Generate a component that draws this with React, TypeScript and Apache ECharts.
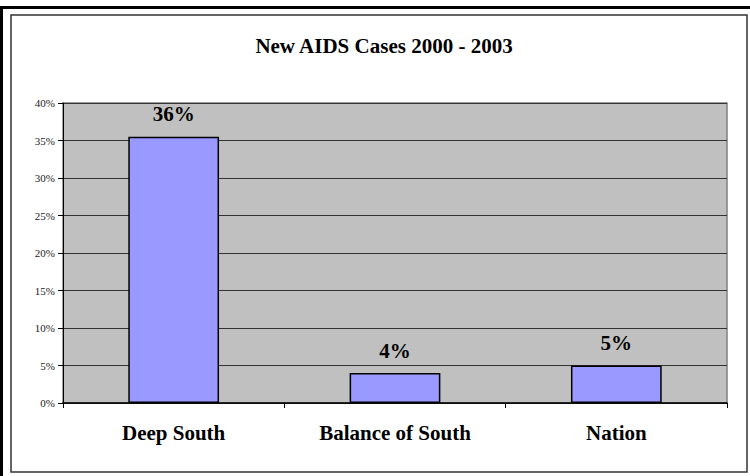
import React, { useEffect, useRef } from "react";
import * as echarts from "echarts";

const categories = ["Deep South", "Balance of South", "Nation"];
const values = [35.5, 4.0, 5.0];
const valueLabels = ["36%", "4%", "5%"];
const yTicks = [0, 5, 10, 15, 20, 25, 30, 35, 40];
const title = "New AIDS Cases 2000 - 2003";

export default function App() {
  const ref = useRef<HTMLDivElement>(null);
  useEffect(() => {
    document.body.style.margin = "0";
    const chart = echarts.init(ref.current!, null, { renderer: "svg" });
    const serif = "'Liberation Serif', 'Times New Roman', serif";
    chart.setOption({
      animation: false,
      backgroundColor: "#ffffff",
      title: {
        text: title,
        left: 379,
        top: 30,
        textAlign: "center",
        textStyle: { fontFamily: serif, fontWeight: "bold", fontSize: 21, color: "#000" },
      },
      grid: { left: 63, right: 23, top: 103, bottom: 73 },
      xAxis: {
        type: "category",
        data: categories,
        axisLine: { show: true, lineStyle: { color: "#000", width: 1.5 } },
        axisTick: { show: true, length: 5, lineStyle: { color: "#000" } },
        axisLabel: {
          fontFamily: serif,
          fontWeight: "bold",
          fontSize: 21,
          color: "#000",
          margin: 19,
        },
        splitLine: { show: false },
      },
      yAxis: {
        type: "value",
        min: 0,
        max: 40,
        interval: 5,
        axisLine: { show: true, lineStyle: { color: "#000", width: 1 } },
        axisTick: { show: true, length: 5, lineStyle: { color: "#000" } },
        axisLabel: {
          fontFamily: serif,
          fontSize: 11,
          color: "#222",
          margin: 8,
          formatter: (v: number) => (yTicks.includes(v) ? v + "%" : ""),
        },
        splitLine: { show: true, lineStyle: { color: "#333", width: 1 } },
        splitArea: { show: false },
      },
      graphic: [
        {
          type: "rect",
          shape: { x: 63, y: 103, width: 664, height: 300 },
          style: { fill: "#C0C0C0", stroke: "#808080", lineWidth: 1.5 },
          z: -10,
          silent: true,
        },
        {
          type: "line",
          shape: { x1: 0, y1: 7.5, x2: 750, y2: 7.5 },
          style: { stroke: "#000", lineWidth: 3 },
          silent: true,
        },
        {
          type: "line",
          shape: { x1: 1.5, y1: 6, x2: 1.5, y2: 476 },
          style: { stroke: "#000", lineWidth: 3 },
          silent: true,
        },
        {
          type: "rect",
          shape: { x: 11, y: 15, width: 736, height: 457 },
          style: { fill: "none", stroke: "#333", lineWidth: 1.5 },
          silent: true,
        },
      ],
      series: [
        {
          type: "bar",
          data: values,
          barWidth: "41%",
          itemStyle: { color: "#9999FF", borderColor: "#000", borderWidth: 1.5 },
          label: {
            show: true,
            position: "top",
            distance: 12,
            fontFamily: serif,
            fontWeight: "bold",
            fontSize: 21,
            color: "#000",
            formatter: (p: any) => valueLabels[p.dataIndex],
          },
        },
      ],
    });
    return () => chart.dispose();
  }, []);
  return <div ref={ref} style={{ width: 750, height: 476 }} />;
}
